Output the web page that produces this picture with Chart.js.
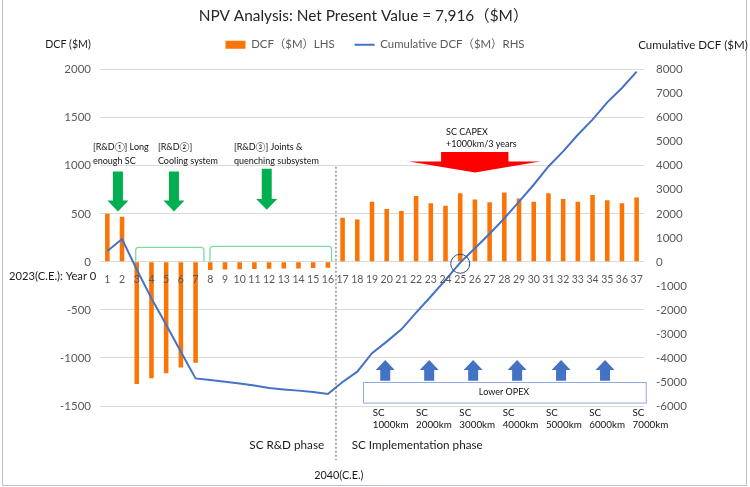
<!DOCTYPE html>
<html>
<head>
<meta charset="utf-8">
<script src="https://cdn.jsdelivr.net/npm/chart.js@4/dist/chart.umd.min.js"></script>
<style>
  html, body { margin: 0; padding: 0; background: #fff; }
</style>
</head>
<body>
<canvas id="npv" width="750" height="487"></canvas>
<script>
// year labels on the category axis
const years = ['1','2','3','4','5','6','7','8','9','10','11','12','13','14','15','16','17','18','19',
  '20','21','22','23','24','25','26','27','28','29','30','31','32','33','34','35','36','37'];

// discounted cash flow per year, $M (left axis)
const dcf = [500, 470, -1270, -1210, -1160, -1100, -1050,
  -85, -80, -78, -75, -72, -70, -68, -65, -62,
  460, 440, 625, 550, 530, 685, 610, 585, 715, 650, 620, 722, 660, 625, 715, 655, 625, 695, 640, 610, 670];

// cumulative DCF, $M (right axis)
const cumDcf = [450, 950, -320, -1520, -2620, -3740, -4850,
  -4920, -4990, -5060, -5150, -5250, -5310, -5360, -5420, -5500,
  -5000, -4570, -3800, -3320, -2810, -2110, -1440, -750, -30, 570, 1170, 1810, 2510, 3210, 3970, 4600, 5290, 5920, 6640, 7240, 7916];

const leftTicks = [-1500, 2000, 500];
const rightTicks = [-6000, 8000, 1000];
const scLabels = ['1000km', '2000km', '3000km', '4000km', '5000km', '6000km', '7000km'];

const FAM = "Lato, 'Noto Sans CJK JP', sans-serif";
const font = s => s + 'px ' + FAM;

Chart.defaults.font.family = FAM;
Chart.defaults.color = '#595959';

function downArrow(ctx, cx, top, head, tip, sw, hw, col) {
  ctx.fillStyle = col;
  ctx.beginPath();
  ctx.moveTo(cx - sw, top);
  ctx.lineTo(cx + sw, top);
  ctx.lineTo(cx + sw, head);
  ctx.lineTo(cx + hw, head);
  ctx.lineTo(cx, tip);
  ctx.lineTo(cx - hw, head);
  ctx.lineTo(cx - sw, head);
  ctx.closePath();
  ctx.fill();
}

function bracket(ctx, x0, x1, top, base) {
  const r = 3;
  ctx.beginPath();
  ctx.moveTo(x0, base);
  ctx.lineTo(x0, top + r);
  ctx.arcTo(x0, top, x0 + r, top, r);
  ctx.lineTo(x1 - r, top);
  ctx.arcTo(x1, top, x1, top + r, r);
  ctx.lineTo(x1, base);
  ctx.stroke();
}

const notes = {
  id: 'notes',
  afterDraw(chart) {
    const {ctx, scales: {x, y, y1}} = chart;
    const X = i => x.getPixelForValue(i);
    const Y = v => y.getPixelForValue(v);
    ctx.save();

    // outer frame
    ctx.strokeStyle = '#b8c1d3';
    ctx.lineWidth = 1;
    ctx.beginPath();
    ctx.moveTo(2.5, 0); ctx.lineTo(2.5, 485.5); ctx.lineTo(746.5, 485.5); ctx.lineTo(746.5, 0);
    ctx.stroke();

    // axis titles
    const ly = chart.legend.top + 26;
    ctx.fillStyle = '#1a1a1a';
    ctx.textBaseline = 'middle';
    ctx.textAlign = 'center';
    ctx.font = font(10.6);
    ctx.fillText('DCF ($M)', y.left + 68, ly);
    ctx.font = font(11.5);
    ctx.fillText('Cumulative DCF ($M)', y1.right - 57, ly);

    ctx.textAlign = 'right';
    ctx.font = font(11.2);
    ctx.fillText('2023(C.E.): Year 0', X(-0.75), Y(-156));

    // phase divider
    ctx.strokeStyle = '#555';
    ctx.setLineDash([2, 2]);
    ctx.beginPath();
    ctx.moveTo(X(15.55), Y(990));
    ctx.lineTo(X(15.55), Y(-2062));
    ctx.stroke();
    ctx.setLineDash([]);

    // R&D notes
    ctx.font = font(9);
    ctx.textAlign = 'left';
    ctx.fillStyle = '#111';
    [[-0.98, '[R&D①] Long', 'enough SC'], [3.44, '[R&D②]', 'Cooling system'],
     [8.61, '[R&D③] Joints &', 'quenching subsystem']].forEach(t => {
      ctx.fillText(t[1], X(t[0]), Y(1198));
      ctx.fillText(t[2], X(t[0]), Y(1052));
    });
    downArrow(ctx, X(0.72), Y(940), Y(639), Y(524), 5, 10.5, '#00b050');
    downArrow(ctx, X(4.53), Y(940), Y(639), Y(524), 5, 10.5, '#00b050');
    downArrow(ctx, X(10.84), Y(969), Y(653), Y(542), 5, 10.5, '#00b050');

    ctx.strokeStyle = '#7ddca0';
    ctx.lineWidth = 1.3;
    bracket(ctx, X(1.93), X(6.57), Y(151), Y(0));
    bracket(ctx, X(6.98), X(15.25), Y(161), Y(0));

    // CAPEX arrow
    ctx.fillStyle = '#111';
    ctx.lineWidth = 1;
    ctx.fillText('SC CAPEX', X(23.04), Y(1354));
    ctx.fillText('+1000km/3 years', X(23.04), Y(1229));
    ctx.fillStyle = '#ff0000';
    ctx.beginPath();
    ctx.moveTo(X(22.7), Y(1143));
    ctx.lineTo(X(27.28), Y(1143));
    ctx.lineTo(X(27.28), Y(1045));
    ctx.lineTo(X(29.43), Y(1045));
    ctx.lineTo(X(25.01), Y(930));
    ctx.lineTo(X(20.52), Y(1045));
    ctx.lineTo(X(22.7), Y(1045));
    ctx.closePath();
    ctx.fill();

    // break-even circle
    ctx.strokeStyle = '#3b4a68';
    ctx.beginPath();
    ctx.arc(X(24), y1.getPixelForValue(-80), 9.5, 0, Math.PI * 2);
    ctx.stroke();

    // OPEX arrows and box
    for (let k = 0; k < 6; k++) {
      const cx = X(18.9 + 2.99 * k);
      downArrow(ctx, cx, Y(-1236), Y(-1125), Y(-1021), 5, 9.5, '#4472c4');
    }
    ctx.strokeStyle = '#8eaadb';
    ctx.strokeRect(Math.round(X(17.37)) + 0.5, Math.round(Y(-1247)) + 0.5,
      X(36.6) - X(17.37), Y(-1461) - Y(-1247));
    ctx.fillStyle = '#111';
    ctx.textAlign = 'center';
    ctx.fillText('Lower OPEX', X(26.98), Y(-1354));

    ctx.textAlign = 'left';
    ctx.font = font(9.8);
    scLabels.forEach((s, k) => {
      const lx = X(18.05 + 2.945 * k);
      ctx.fillText('SC', lx, Y(-1570));
      ctx.fillText(s, lx, Y(-1698));
    });

    // phase captions
    ctx.font = font(11.7);
    ctx.fillStyle = '#1a1a1a';
    ctx.textAlign = 'center';
    ctx.fillText('SC R&D phase', X(12.2), Y(-1906));
    ctx.textAlign = 'left';
    ctx.fillText('SC Implementation phase', X(16.62), Y(-1906));
    ctx.font = font(10.8);
    ctx.textAlign = 'center';
    ctx.fillText('2040(C.E.)', X(15.74), Y(-2219));

    ctx.restore();
  }
};

new Chart(document.getElementById('npv'), {
  data: {
    labels: years,
    datasets: [
      {
        type: 'bar',
        label: 'DCF（$M）LHS',
        data: dcf,
        backgroundColor: '#fb7406',
        borderWidth: 0,
        barPercentage: 0.31,
        categoryPercentage: 1,
        pointStyle: 'rect',
        yAxisID: 'y',
        order: 1
      },
      {
        type: 'line',
        label: 'Cumulative DCF（$M）RHS',
        data: cumDcf,
        borderColor: '#4472c4',
        backgroundColor: '#4472c4',
        borderWidth: 2,
        pointRadius: 0,
        pointStyle: 'line',
        tension: 0,
        yAxisID: 'y1',
        order: 0
      }
    ]
  },
  options: {
    responsive: false,
    animation: false,
    layout: { padding: { top: 0, left: 0, right: 0, bottom: 81 } },
    plugins: {
      title: {
        display: true,
        text: 'NPV Analysis: Net Present Value = 7,916（$M）　　',
        color: '#262626',
        font: { size: 15.4, weight: 'normal' },
        padding: { top: 7, bottom: -6.5 }
      },
      legend: {
        display: true,
        labels: {
          usePointStyle: true,
          pointStyleWidth: 20,
          boxHeight: 8,
          padding: 20,
          color: '#595959',
          font: { size: 11.4 },
          sort: (a, b) => a.datasetIndex - b.datasetIndex
        }
      },
      subtitle: {
        display: true,
        text: '',
        weight: 500,
        font: { size: 1 },
        padding: { top: 0, bottom: 8.1 }
      },
      tooltip: { enabled: false }
    },
    scales: {
      x: {
        type: 'category',
        position: { y: 0 },
        grid: { display: false, drawTicks: false },
        border: { display: false },
        ticks: { autoSkip: false, maxRotation: 0, padding: 11, z: 1, color: '#595959', font: { size: 10.5 } }
      },
      y: {
        position: 'left',
        min: leftTicks[0],
        max: leftTicks[1],
        ticks: { stepSize: leftTicks[2], padding: 9, color: '#595959', font: { size: 11.5 }, callback: v => String(v) },
        grid: { color: '#d9d9d9', drawTicks: false },
        border: { display: false },
        afterFit: s => { s.width = 100; }
      },
      y1: {
        position: 'right',
        min: rightTicks[0],
        max: rightTicks[1],
        ticks: { stepSize: rightTicks[2], padding: 12, color: '#595959', font: { size: 11.5 }, callback: v => String(v) },
        grid: { display: false, drawTicks: false },
        border: { display: false },
        afterFit: s => { s.width = 106; }
      }
    }
  },
  plugins: [notes]
});
</script>
</body>
</html>
